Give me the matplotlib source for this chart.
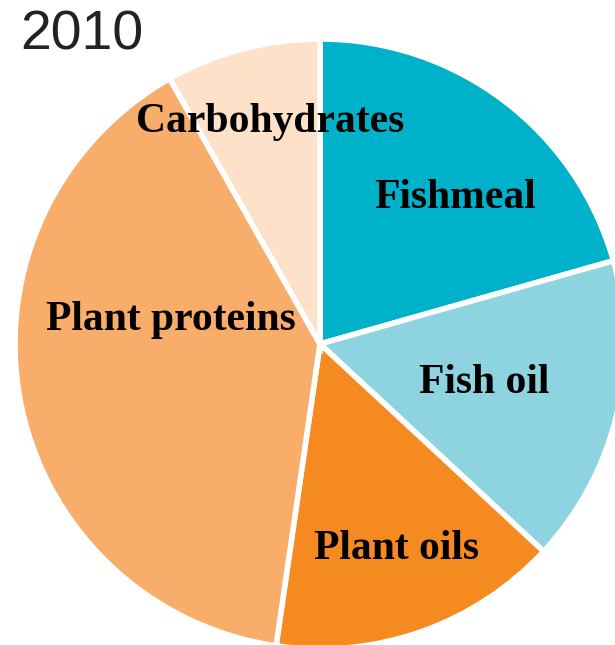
import matplotlib
matplotlib.use("Agg")
import matplotlib.pyplot as plt

# feed composition 2010 (%)
ingredientes = ["Fishmeal", "Fish oil", "Plant oils", "Plant proteins", "Carbohydrates"]
porcentajes = [20.6, 16.3, 15.4, 39.5, 8.2]
colores = ["#00b2c9", "#8dd3e0", "#f58a20", "#f8ad6a", "#fde1c8"]
separacion = [0.02, 0, 0, 0, 0]

# label positions in pixels (x, y from top)
posiciones_etiquetas = [(455, 198), (484, 383), (397, 549), (171, 320), (270, 122)]

W, H = 615, 645
fig = plt.figure(figsize=(W / 100, H / 100), dpi=100)
ax = fig.add_axes([0, 0, 1, 1])

ax.pie(porcentajes, colors=colores, explode=separacion, startangle=90,
       counterclock=False, center=(320, H - 344), radius=305,
       wedgeprops=dict(edgecolor="white", linewidth=4), frame=True)
ax.set_xlim(0, W)
ax.set_ylim(0, H)
ax.set_aspect("equal")
ax.axis("off")

for nombre, (x, y) in zip(ingredientes, posiciones_etiquetas):
    ax.text(x, H - y, nombre, ha="center", va="center", fontsize=30,
            fontweight="bold", family=["Liberation Serif", "DejaVu Serif"],
            color="black")

fig.text(20 / W, 1 - 35 / H, "2010", ha="left", va="center", fontsize=40,
         family=["Liberation Sans", "DejaVu Sans"], color="#222222")

fig.savefig("out.png", dpi=100)
